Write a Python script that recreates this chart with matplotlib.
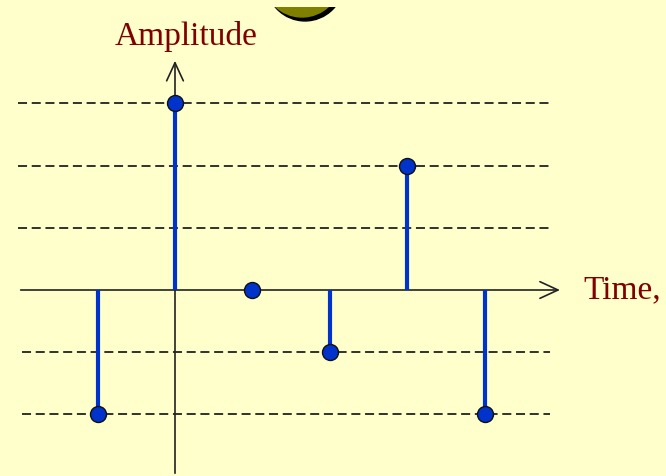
import matplotlib
matplotlib.use("Agg")
import matplotlib.pyplot as plt
from matplotlib.patches import Ellipse, Rectangle

# sample index and amplitude of each stem
n = [-1, 0, 1, 2, 3, 4]
amp = [-2, 3, 0, -1, 2, -2]
levels = [3, 2, 1, -1, -2]  # dashed guide lines

bg = "#FFFFCC"
stem_blue = "#0033CC"
label_red = "#800000"

fig = plt.figure(figsize=(6.66, 4.77), dpi=100, facecolor=bg)
ax = fig.add_axes([0, 0, 1, 1])
ax.set_facecolor(bg)
ax.set_xlim(-2.261, 6.344)
ax.set_ylim(-2.99, 4.678)
ax.axis("off")

# dashed guide lines
for lv in levels:
    x0 = -2.03 if lv > 0 else -1.98
    ax.plot([x0, 4.85], [lv, lv], color="#222222", lw=1.3,
            linestyle=(0, (5, 2.6)), zorder=1)

# axes with open arrow heads
arrow = dict(arrowstyle="->,head_length=1.3,head_width=0.6",
             color="#222222", lw=1.2)
ax.annotate("", xy=(5.01, 0), xytext=(-2.03, 0), arrowprops=arrow, zorder=2)
ax.annotate("", xy=(0, 3.73), xytext=(0, -2.99), arrowprops=arrow, zorder=2)

# stems
for xi, yi in zip(n, amp):
    ax.plot([xi, xi], [0, yi], color=stem_blue, lw=3.0, zorder=3,
            solid_capstyle="butt")
ax.plot(n, amp, "o", color=stem_blue, markersize=11.5,
        markeredgecolor="#111111", markeredgewidth=1.0, zorder=4)

# labels
ax.text(0.14, 3.96, "Amplitude", color=label_red, fontsize=24,
        family="Liberation Serif", ha="center", va="baseline")
ax.text(5.27, 0.02, "Time,", color=label_red, fontsize=24,
        family="Liberation Serif", ha="left", va="center")

# partially visible decoration at the top, cut off a few pixels below the edge
clip = Rectangle((-3, -3), 10, 7.55, transform=ax.transData)
shadow = Ellipse((1.68, 4.949), 1.003, 1.248, color="black", zorder=2)
disc = Ellipse((1.641, 5.013), 1.003, 1.248, color="#808000", zorder=3)
for p in (shadow, disc):
    ax.add_patch(p)
    p.set_clip_path(clip)

fig.savefig("out.png", dpi=100, facecolor=bg)
